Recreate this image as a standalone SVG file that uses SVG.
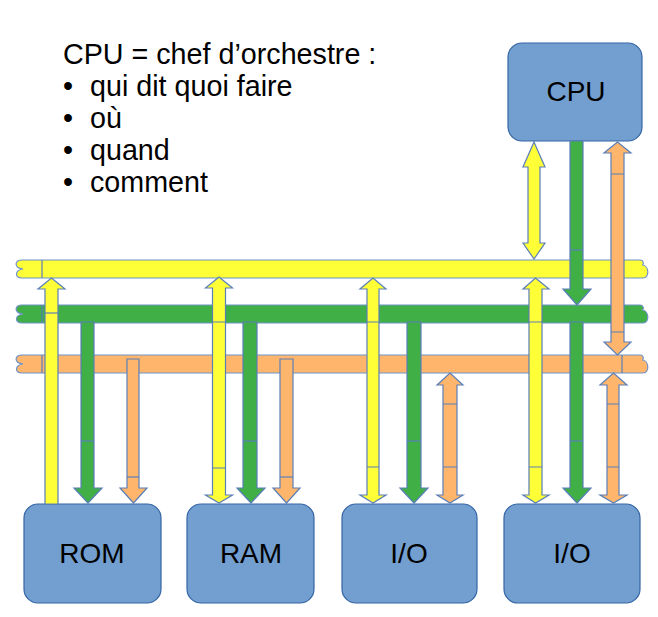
<svg xmlns="http://www.w3.org/2000/svg" width="658" height="617" viewBox="0 0 658 617">
<style>
.box{fill:#729fcf;stroke:#3465a4;stroke-width:1.2}
.lbl{font-family:"Liberation Sans",Arial,sans-serif;font-size:28px;fill:#000}
.cap{font-family:"Liberation Sans",Arial,sans-serif;font-size:28.7px;fill:#000}
.bus{stroke:#6f93c8;stroke-width:1.2}
.arr{stroke:#5a7fb8;stroke-width:1.2;stroke-linejoin:miter}
.sep{stroke:#5a7fb8;stroke-width:1.2;fill:none}
.y{fill:#ffff38}
.g{fill:#3faf46}
.o{fill:#ffb66c}
</style>
<rect width="658" height="617" fill="#ffffff"/>
<g id="caption">
<text class="cap" x="63" y="64">CPU = chef d’orchestre :</text>
<text class="cap" x="63" y="96">•</text><text class="cap" x="90" y="96">qui dit quoi faire</text>
<text class="cap" x="63" y="128">•</text><text class="cap" x="90" y="128">où</text>
<text class="cap" x="63" y="160">•</text><text class="cap" x="90" y="160">quand</text>
<text class="cap" x="63" y="192">•</text><text class="cap" x="90" y="192">comment</text>
</g>
<g id="buses">
<path class="bus y" d="M22,260 H640 C644,260 644,265 642,265 C649,265 650,278 643,278 H22 C14,278 15,270 23,269 C14,268 14,260 22,260 Z"/>
<path class="bus g" d="M22,305 H640 C644,305 644,310 642,310 C649,310 650,323 643,323 H22 C14,323 15,315 23,314 C14,313 14,305 22,305 Z"/>
<path class="bus o" d="M22,355 H640 C644,355 644,360 642,360 C649,360 650,373 643,373 H22 C14,373 15,365 23,364 C14,363 14,355 22,355 Z"/>
<path class="sep" d="M42,260 V278 M42,305 V323 M42,355 V373 M622,355 V373"/>
</g>
<g id="cpu">
<rect class="box" x="508" y="43" width="134" height="98" rx="14"/>
<text class="lbl" x="576" y="101" text-anchor="middle">CPU</text>
</g>
<g id="rom">
<rect class="box" x="24" y="504" width="137" height="99" rx="14"/>
<text class="lbl" x="92" y="563" text-anchor="middle">ROM</text>
</g>
<g id="ram">
<rect class="box" x="187" y="504" width="127" height="99" rx="14"/>
<text class="lbl" x="251" y="563" text-anchor="middle">RAM</text>
</g>
<g id="io1">
<rect class="box" x="342" y="504" width="135" height="99" rx="14"/>
<text class="lbl" x="409" y="563" text-anchor="middle">I/O</text>
</g>
<g id="io2">
<rect class="box" x="504" y="504" width="136" height="99" rx="14"/>
<text class="lbl" x="572" y="563" text-anchor="middle">I/O</text>
</g>
<g id="connectors">
<!-- ROM -->
<path class="arr y" d="M45,504 V289 H38 L51.5,278 L65,289 H58 V504 Z"/>
<path class="sep" d="M45,313 H58"/>
<path class="arr g" d="M81,322 H94 V488 H102 L88,503 L74,488 H81 Z"/>
<path class="sep" d="M81,441 H94"/>
<path class="arr o" d="M127,359 H139 V488 H147 L133.5,503 L120,488 H127 Z"/>
<path class="sep" d="M127,477 H139"/>
<!-- RAM -->
<path class="arr y" d="M212.5,288 H205.5 L219,277 L232.5,288 H225.5 V495 H232.5 L219,503 L205.5,495 H212.5 Z"/>
<path class="sep" d="M212.5,322 H225.5 M212.5,468 H225.5"/>
<path class="arr g" d="M243,322 H257 V488 H265 L251,503 L237,488 H243 Z"/>
<path class="sep" d="M243,441 H257"/>
<path class="arr o" d="M280,359 H293 V488 H300 L286.5,503 L273,488 H280 Z"/>
<path class="sep" d="M280,477 H293"/>
<!-- I/O 1 -->
<path class="arr y" d="M367,289 H360 L373,278 L386,289 H379 V495 H386 L373,503 L360,495 H367 Z"/>
<path class="sep" d="M367,322 H379 M367,467 H379"/>
<path class="arr g" d="M407,322 H421 V488 H428 L414,503 L400,488 H407 Z"/>
<path class="sep" d="M407,441 H421"/>
<path class="arr o" d="M443,385 H437 L450,373 L463,385 H457 V495 H463 L450,503 L437,495 H443 Z"/>
<path class="sep" d="M443,404 H457 M443,467 H457"/>
<!-- I/O 2 -->
<path class="arr y" d="M529,289 H523 L535.5,278 L549,289 H542 V495 H549 L535.5,503 L523,495 H529 Z"/>
<path class="sep" d="M529,322 H542 M529,467 H542"/>
<path class="arr g" d="M570,322 H583 V488 H591 L577,503 L563,488 H570 Z"/>
<path class="sep" d="M570,441 H583"/>
<path class="arr o" d="M607,385 H600 L613.5,373 L627,385 H619 V495 H627 L613.5,503 L600,495 H607 Z"/>
<path class="sep" d="M607,404 H619 M607,467 H619"/>
<!-- CPU -->
<path class="arr y" d="M528,167 H523 L534,142 L545,167 H540 V243 H545 L534,259 L523,243 H528 Z"/>
<path class="arr g" d="M570,141 H583 V289 H591 L577,305 L563,289 H570 Z"/>
<path class="sep" d="M570,250 H583"/>
<path class="arr o" d="M611,153 H604 L617.5,142 L631,153 H624 V342 H631 L617.5,355 L604,342 H611 Z"/>
<path class="sep" d="M611,174 H624 M611,332 H624"/>
</g>
</svg>
